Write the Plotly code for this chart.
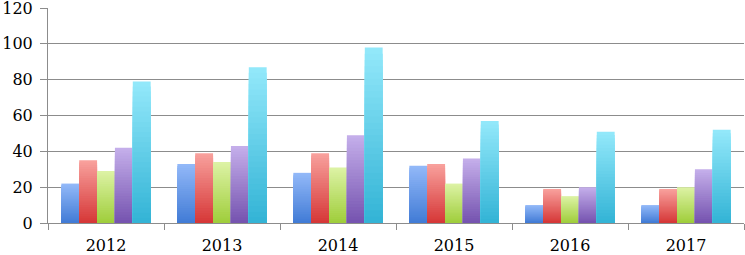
import plotly.graph_objects as go

years = ["2012", "2013", "2014", "2015", "2016", "2017"]
series_a = [22, 33, 28, 32, 10, 10]
series_b = [35, 39, 39, 33, 19, 19]
series_c = [29, 34, 31, 22, 15, 20]
series_d = [42, 43, 49, 36, 20, 30]
series_e = [79, 87, 98, 57, 51, 52]
y_ticks = [0, 20, 40, 60, 80, 100, 120]

series = [series_a, series_b, series_c, series_d, series_e]
# (top colour, bottom colour)
colors = [
    ((146, 184, 248), (66, 124, 214)),
    ((248, 160, 156), (214, 56, 56)),
    ((220, 242, 164), (160, 206, 60)),
    ((196, 174, 234), (118, 84, 176)),
    ((146, 232, 250), (52, 180, 214)),
]

def mix(c1, c2, t):
    return "rgb(%d,%d,%d)" % tuple(round(a + (b - a) * t) for a, b in zip(c1, c2))

N = 28
fig = go.Figure()
for i, (vals, (top, bot)) in enumerate(zip(series, colors)):
    for k in range(N):
        frac = (N - k) / N
        fig.add_trace(go.Bar(
            x=years,
            y=[v * frac for v in vals],
            offsetgroup=str(i),
            marker=dict(color=mix(top, bot, k / (N - 1)), line=dict(width=0)),
            showlegend=False,
            hoverinfo="skip" if k else "y",
        ))

fig.update_layout(
    width=745, height=255,
    margin=dict(l=48, r=1, t=8, b=32),
    barmode="group",
    bargap=0.23,
    bargroupgap=0,
    plot_bgcolor="white",
    paper_bgcolor="white",
    font=dict(family="DejaVu Serif", size=16, color="black"),
)
fig.update_xaxes(
    showgrid=False,
    showline=True, linecolor="#8c8c8c", linewidth=1,
    ticks="outside", tickson="boundaries", ticklen=6, tickcolor="#8c8c8c",
    automargin=False, ticklabelstandoff=8,
)
fig.update_yaxes(
    range=[0, 120], tickvals=y_ticks,
    showgrid=True, gridcolor="#8c8c8c", gridwidth=1,
    showline=True, linecolor="#8c8c8c", linewidth=1,
    ticks="outside", ticklen=7, tickcolor="#8c8c8c",
    zeroline=False, automargin=False, ticklabeloverflow="allow",
    ticklabelstandoff=4,
)

fig.write_html("out.html", config={"displayModeBar": False},
               post_script="document.body.style.margin='0';")
